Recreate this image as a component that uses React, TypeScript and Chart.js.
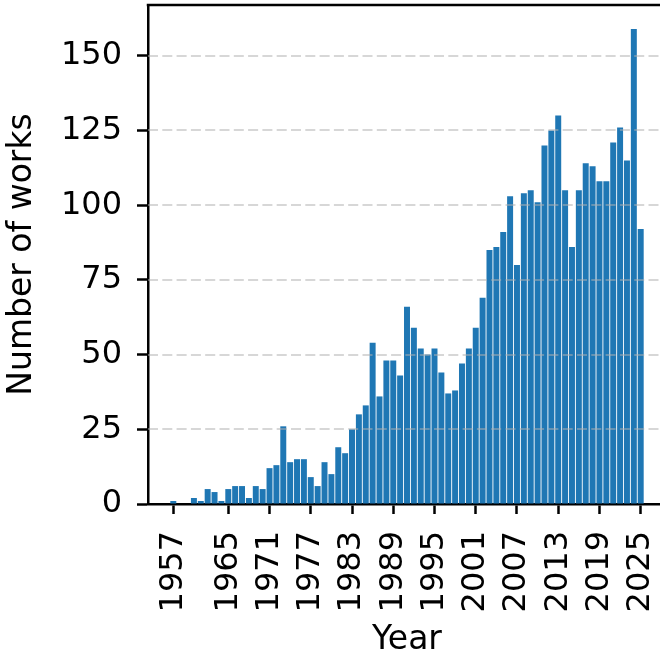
import { useEffect, useRef } from "react";
import { Chart, registerables } from "chart.js";

Chart.register(...registerables);

const YEARS = [
  1957, 1960, 1961, 1962, 1963, 1964, 1965, 1966, 1967, 1968, 1969, 1970,
  1971, 1972, 1973, 1974, 1975, 1976, 1977, 1978, 1979, 1980, 1981, 1982,
  1983, 1984, 1985, 1986, 1987, 1988, 1989, 1990, 1991, 1992, 1993, 1994,
  1995, 1996, 1997, 1998, 1999, 2000, 2001, 2002, 2003, 2004, 2005, 2006,
  2007, 2008, 2009, 2010, 2011, 2012, 2013, 2014, 2015, 2016, 2017, 2018,
  2019, 2020, 2021, 2022, 2023, 2024, 2025,
];

const WORKS = [
  1, 2, 1, 5, 4, 1, 5, 6, 6, 2, 6, 5,
  12, 13, 26, 14, 15, 15, 9, 6, 14, 10, 19, 17,
  25, 30, 33, 54, 36, 48, 48, 43, 66, 59, 52, 50,
  52, 44, 37, 38, 47, 52, 59, 69, 85, 86, 91, 103,
  80, 104, 105, 101, 120, 125, 130, 105, 86, 105, 114, 113,
  108, 108, 121, 126, 115, 159, 92,
];

const X_TICKS = [1957, 1965, 1971, 1977, 1983, 1989, 1995, 2001, 2007, 2013, 2019, 2025];
const Y_TICKS = [0, 25, 50, 75, 100, 125, 150];

const FONT = "'DejaVu Sans', sans-serif";

function zeroPad(s: any) {
  s.paddingLeft = 0;
  s.paddingRight = 0;
  s.paddingTop = 0;
  s.paddingBottom = 0;
}

export default function App() {
  const ref = useRef<HTMLCanvasElement | null>(null);

  useEffect(() => {
    if (!ref.current) return;

    const gridOverlay = {
      id: "gridOverlay",
      afterDatasetsDraw(chart: any) {
        const { ctx, chartArea, scales } = chart;
        const y = scales.y;
        ctx.save();
        ctx.strokeStyle = "rgba(176,176,176,0.5)";
        ctx.lineWidth = 2;
        ctx.setLineDash([10, 4.3]);
        for (const v of Y_TICKS) {
          if (v === 0) continue;
          const py = Math.round(y.getPixelForValue(v));
          ctx.beginPath();
          ctx.moveTo(chartArea.left, py);
          ctx.lineTo(chartArea.right, py);
          ctx.stroke();
        }
        ctx.restore();
      },
    };

    const topSpine = {
      id: "topSpine",
      afterDraw(chart: any) {
        const { ctx, chartArea } = chart;
        ctx.save();
        ctx.strokeStyle = "#000";
        ctx.lineWidth = 2.5;
        ctx.beginPath();
        ctx.moveTo(chartArea.left - 1.25, chartArea.top);
        ctx.lineTo(chartArea.right + 1.25, chartArea.top);
        ctx.stroke();
        ctx.beginPath();
        ctx.moveTo(chartArea.right, chartArea.top);
        ctx.lineTo(chartArea.right, chartArea.bottom);
        ctx.stroke();
        ctx.restore();
      },
    };

    const chart = new Chart(ref.current, {
      type: "bar",
      data: {
        datasets: [
          {
            data: YEARS.map((x, i) => ({ x, y: WORKS[i] })),
            backgroundColor: "#1f77b4",
            borderWidth: 0,
            barPercentage: 0.87,
            categoryPercentage: 1,
          },
        ],
      },
      options: {
        animation: false,
        responsive: false,
        devicePixelRatio: 1,
        layout: { padding: { top: 5, right: 6, left: 0, bottom: 0 } },
        plugins: {
          legend: { display: false },
          tooltip: { enabled: false },
        },
        scales: {
          x: {
            type: "linear",
            min: 1953.32,
            max: 2028.68,
            offset: false,
            afterBuildTicks: (s: any) => {
              s.ticks = X_TICKS.map((v) => ({ value: v }));
            },
            afterFit: (s: any) => {
              s.height = 153;
              zeroPad(s);
            },
            ticks: {
              autoSkip: false,
              minRotation: 90,
              maxRotation: 90,
              padding: 17,
              color: "#000",
              font: { family: FONT, size: 32 },
              callback: (v: any) => String(v),
            },
            grid: {
              display: true,
              offset: false,
              drawOnChartArea: false,
              drawTicks: true,
              tickLength: 10,
              tickColor: "#000",
              tickWidth: 2.5,
            },
            border: { display: true, color: "#000", width: 2.5 },
            title: {
              display: true,
              text: "Year",
              color: "#000",
              font: { family: FONT, size: 33, lineHeight: 1 },
              padding: { top: 0, bottom: 0 },
            },
          },
          y: {
            type: "linear",
            min: 0,
            max: 167,
            afterBuildTicks: (s: any) => {
              s.ticks = Y_TICKS.map((v) => ({ value: v }));
            },
            afterFit: (s: any) => {
              s.width = 148;
              zeroPad(s);
            },
            ticks: {
              padding: 15,
              color: "#000",
              font: { family: FONT, size: 32 },
              callback: (v: any) => String(v),
            },
            grid: {
              display: true,
              offset: false,
              drawOnChartArea: false,
              drawTicks: true,
              tickLength: 11,
              tickColor: "#000",
              tickWidth: 2.5,
            },
            border: { display: true, color: "#000", width: 2.5 },
            title: {
              display: true,
              text: "Number of works",
              color: "#000",
              font: { family: FONT, size: 33, lineHeight: 1 },
              padding: { top: 6, bottom: 0 },
            },
          },
        },
      },
      plugins: [gridOverlay, topSpine],
    } as any);

    return () => chart.destroy();
  }, []);

  return (
    <div
      style={{
        position: "fixed",
        left: 0,
        top: 0,
        width: 660,
        height: 657,
        overflow: "hidden",
        background: "#fff",
      }}
    >
      <canvas ref={ref} width={672} height={657} style={{ display: "block", width: 672, height: 657 }} />
    </div>
  );
}
